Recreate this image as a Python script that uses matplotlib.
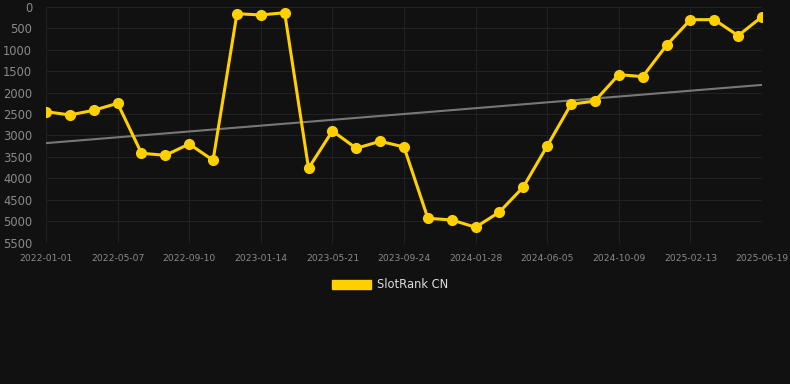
import numpy as np
import matplotlib
matplotlib.use("Agg")
import matplotlib.pyplot as plt
from matplotlib.patches import Patch

# data (rank, lower is better)
tick_labels = ["2022-01-01", "2022-05-07", "2022-09-10", "2023-01-14", "2023-05-21",
               "2023-09-24", "2024-01-28", "2024-06-05", "2024-10-09", "2025-02-13",
               "2025-06-19"]
rank = [2446, 2523, 2414, 2251, 3416, 3463, 3199, 3579, 163, 193, 140,
        3766, 2896, 3300, 3137, 3269, 4931, 4970, 5140, 4784, 4201,
        3246, 2275, 2197, 1582, 1631, 900, 302, 302, 675, 233]
y_ticks = list(range(0, 5501, 500))
series_name = "SlotRank CN"

bg = "#111111"
gold = "#ffd000"

x = np.arange(len(rank))
slope, icpt = np.polyfit(x, rank, 1)

fig = plt.figure(figsize=(7.9, 3.84), dpi=100, facecolor=bg)
ax = fig.add_axes([46 / 790, 1 - 242.7 / 384, 716 / 790, 236 / 384])
ax.set_facecolor(bg)

ax.plot(x, slope * x + icpt, color="#777777", lw=1.5, zorder=2)
ax.plot(x, rank, color=gold, lw=2.2, marker="o", ms=7, zorder=3)

ax.set_xlim(0, len(rank) - 1)
ax.set_ylim(5500, 0)
ax.set_yticks(y_ticks)
ax.set_xticks(np.arange(0, len(rank), 3))
ax.set_xticklabels(tick_labels)

ax.grid(True, color="#212121", lw=0.8)
ax.set_axisbelow(True)
for s in ax.spines.values():
    s.set_visible(False)
ax.tick_params(axis="y", length=0, pad=10, labelsize=8.3, labelcolor="#8a8a8a")
ax.tick_params(axis="x", length=0, pad=8, labelsize=6.6, labelcolor="#8a8a8a")

fig.legend(handles=[Patch(facecolor=gold, edgecolor=gold, label=series_name)],
           loc="center", bbox_to_anchor=(0.494, 0.258), frameon=False,
           fontsize=8.3, labelcolor="#dddddd", handlelength=3.4, handleheight=0.9,
           handletextpad=0.5)

fig.savefig("out.png", dpi=100, facecolor=bg)
